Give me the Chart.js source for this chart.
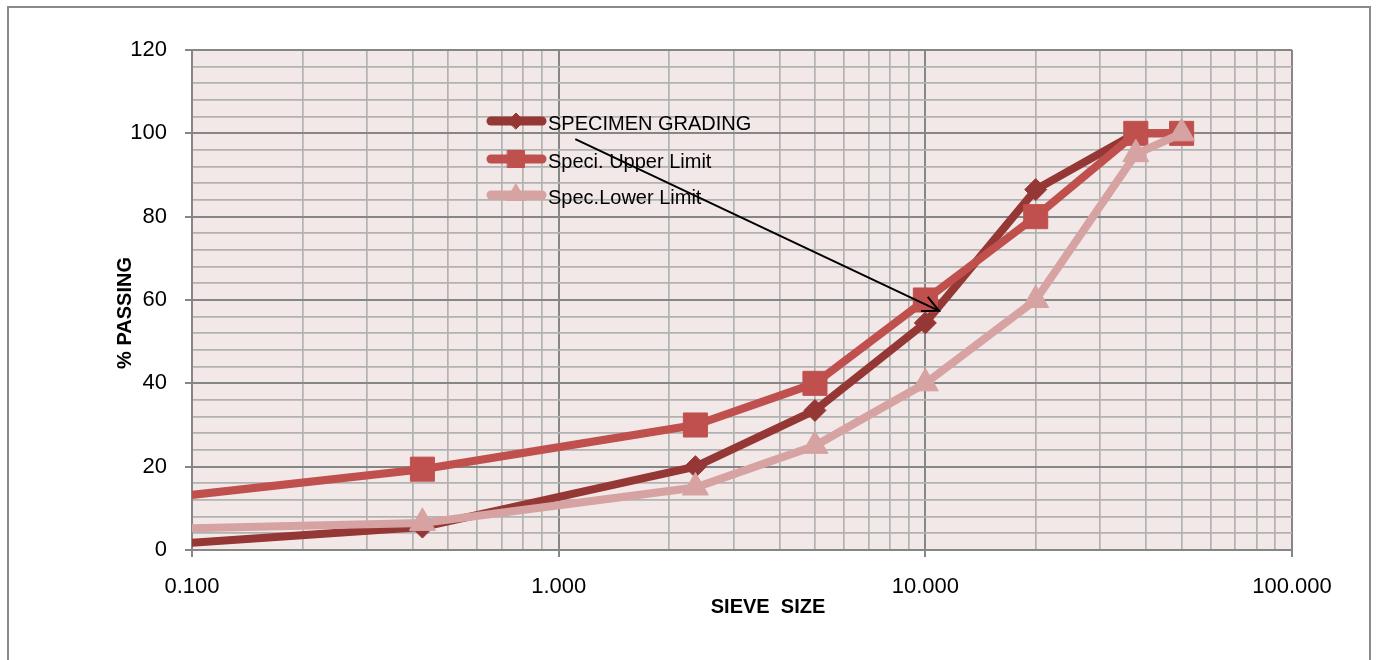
<!DOCTYPE html>
<html>
<head>
<meta charset="utf-8">
<script src="https://cdn.jsdelivr.net/npm/chart.js@4.4.0/dist/chart.umd.min.js"></script>
<style>
html, body { margin: 0; padding: 0; background: #fff; overflow: hidden; }
#frame { position: absolute; left: 7px; top: 6px; width: 1360px; height: 700px; border: 2px solid #8a8a8a; }
#wrap { position: absolute; left: 0; top: 0; width: 1377px; height: 660px; }
</style>
</head>
<body>
<div id="frame"></div>
<div id="wrap"><canvas id="chart" width="1377" height="660"></canvas></div>
<script>
// sieve sizes (mm) and % passing
var sieveSizes = [0.075, 0.425, 2.36, 5, 10, 20, 37.5, 50];
var specimenGrading = [1, 5.5, 20, 33.5, 54.5, 86.5, 100, 100];
var upperLimit = [12, 19.4, 30, 40, 60, 80, 100, 100];
var lowerLimit = [5, 6.5, 15, 25, 40, 60, 95, 100];

var seriesNames = ['SPECIMEN GRADING', 'Speci. Upper Limit', 'Spec.Lower Limit'];
var xTickLabels = [0.1, 1, 10, 100];
var yTickLabels = [0, 20, 40, 60, 80, 100, 120];

// arrow annotation, in data units
var arrowFrom = { x: 1.11, y: 98.6 };
var arrowTo = { x: 10.9, y: 57.4 };

function points(ys) {
    return sieveSizes.map(function (x, i) { return { x: x, y: ys[i] }; });
}

var FONT = '"Liberation Sans", Arial, sans-serif';
var MAJOR = '#868686';
var MINOR = '#b2b2b2';

// log grid: 1..9 in every decade
var xGrid = [];
for (var d = 0; d < xTickLabels.length - 1; d++) {
    for (var k = 1; k <= 9; k++) xGrid.push(+(xTickLabels[d] * k).toPrecision(6));
}
xGrid.push(xTickLabels[xTickLabels.length - 1]);
var yGrid = [];
for (var v = 0; v <= 120; v += 4) yGrid.push(v);

function isMajorX(v) { return xTickLabels.indexOf(v) >= 0; }
function isMajorY(v) { return yTickLabels.indexOf(v) >= 0; }

var extras = {
    id: 'extras',
    beforeDraw: function (chart) {
        var a = chart.chartArea, ctx = chart.ctx;
        ctx.save();
        ctx.fillStyle = '#f2e8e8';
        ctx.fillRect(a.left, a.top, a.right - a.left, a.bottom - a.top);
        ctx.restore();
    },
    afterDatasetsDraw: function (chart) {
        var ctx = chart.ctx;
        var xs = chart.scales.x, ys = chart.scales.y;

        // legend inside plot
        var rows = [121, 159, 195];
        var legendRadius = [8, 12, 11];
        chart.data.datasets.forEach(function (ds, i) {
            var y = rows[i];
            ctx.save();
            ctx.strokeStyle = ds.borderColor;
            ctx.lineWidth = 9;
            ctx.lineCap = 'round';
            ctx.beginPath();
            ctx.moveTo(491, y);
            ctx.lineTo(542, y);
            ctx.stroke();
            ctx.fillStyle = ds.backgroundColor;
            ctx.strokeStyle = ds.borderColor;
            ctx.lineWidth = 1;
            Chart.helpers.drawPoint(ctx, { pointStyle: ds.pointStyle, radius: legendRadius[i], borderWidth: 1, rotation: 0 }, 516, y);
            ctx.fillStyle = '#000';
            ctx.font = '20px ' + FONT;
            ctx.textBaseline = 'middle';
            ctx.fillText(ds.label, 548, y + 3);
            ctx.restore();
        });

        // arrow
        var x1 = xs.getPixelForValue(arrowFrom.x), y1 = ys.getPixelForValue(arrowFrom.y);
        var x2 = xs.getPixelForValue(arrowTo.x), y2 = ys.getPixelForValue(arrowTo.y);
        var ang = Math.atan2(y2 - y1, x2 - x1);
        ctx.save();
        ctx.strokeStyle = '#000';
        ctx.lineWidth = 2;
        ctx.beginPath();
        ctx.moveTo(x1, y1);
        ctx.lineTo(x2, y2);
        ctx.moveTo(x2 - 18 * Math.cos(ang - 0.45), y2 - 18 * Math.sin(ang - 0.45));
        ctx.lineTo(x2, y2);
        ctx.lineTo(x2 - 18 * Math.cos(ang + 0.45), y2 - 18 * Math.sin(ang + 0.45));
        ctx.stroke();
        ctx.restore();
    },
    afterDraw: function (chart) {
        var ctx = chart.ctx;
        ctx.save();
        ctx.fillStyle = '#000';
        ctx.font = 'bold 20px ' + FONT;
        ctx.textAlign = 'center';
        ctx.textBaseline = 'middle';
        ctx.fillText('SIEVE  SIZE', 768, 607);
        ctx.translate(125, 313);
        ctx.rotate(-Math.PI / 2);
        ctx.fillText('% PASSING', 0, 0);
        ctx.restore();
    }
};

var ctx = document.getElementById('chart').getContext('2d');

new Chart(ctx, {
    type: 'line',
    data: {
        datasets: [
            {
                label: seriesNames[0],
                data: points(specimenGrading),
                borderColor: '#953735',
                backgroundColor: '#953735',
                borderWidth: 8,
                pointStyle: 'rectRot',
                pointRadius: 11,
                pointBorderWidth: 1,
                order: 3
            },
            {
                label: seriesNames[1],
                data: points(upperLimit),
                borderColor: '#c0504d',
                backgroundColor: '#c0504d',
                borderWidth: 8,
                pointStyle: 'rect',
                pointRadius: 17,
                pointBorderWidth: 1,
                order: 2
            },
            {
                label: seriesNames[2],
                data: points(lowerLimit),
                borderColor: '#d7a2a2',
                backgroundColor: '#d7a2a2',
                borderWidth: 8,
                pointStyle: 'triangle',
                pointRadius: 15,
                pointBorderWidth: 1,
                order: 1
            }
        ]
    },
    options: {
        responsive: false,
        animation: false,
        clip: 0,
        layout: { padding: { left: 0, top: 50, right: 85, bottom: 0 } },
        plugins: {
            legend: { display: false },
            tooltip: { enabled: false }
        },
        elements: { line: { tension: 0 } },
        scales: {
            x: {
                type: 'logarithmic',
                min: 0.1,
                max: 100,
                afterBuildTicks: function (s) {
                    s.ticks = xGrid.map(function (v) { return { value: v }; });
                },
                afterFit: function (s) { s.height = 110; },
                border: { color: MAJOR, width: 2 },
                grid: {
                    color: function (c) { return isMajorX(c.tick.value) ? MAJOR : MINOR; },
                    lineWidth: function (c) { return isMajorX(c.tick.value) ? 2 : 1.7; },
                    tickColor: function (c) { return isMajorX(c.tick.value) ? MAJOR : 'rgba(0,0,0,0)'; },
                    tickLength: 7
                },
                ticks: {
                    autoSkip: false,
                    maxRotation: 0,
                    padding: 17,
                    color: '#000',
                    font: { family: FONT, size: 22 },
                    callback: function (value) { return isMajorX(value) ? value.toFixed(3) : ''; }
                }
            },
            y: {
                min: 0,
                max: 120,
                afterBuildTicks: function (s) {
                    s.ticks = yGrid.map(function (v) { return { value: v }; });
                },
                afterFit: function (s) { s.width = 192; },
                border: { color: MAJOR, width: 2 },
                grid: {
                    color: function (c) { return isMajorY(c.tick.value) ? MAJOR : MINOR; },
                    lineWidth: function (c) { return isMajorY(c.tick.value) ? 2 : 1.7; },
                    tickColor: function (c) { return isMajorY(c.tick.value) ? MAJOR : 'rgba(0,0,0,0)'; },
                    tickLength: 7
                },
                ticks: {
                    autoSkip: false,
                    padding: 18,
                    color: '#000',
                    font: { family: FONT, size: 22 },
                    callback: function (value) { return isMajorY(value) ? value : ''; }
                }
            }
        }
    },
    plugins: [extras]
});
</script>
</body>
</html>
